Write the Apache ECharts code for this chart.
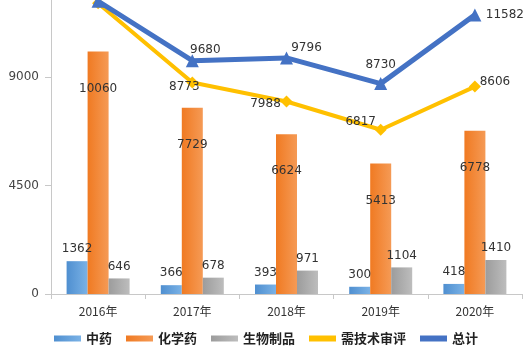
<!DOCTYPE html>
<html>
<head>
<meta charset="utf-8">
<script src="https://cdn.jsdelivr.net/npm/echarts@6/dist/echarts.min.js"></script>
<style>
html, body { margin: 0; padding: 0; background: #fff; }
#chart { width: 532px; height: 355px; }
</style>
</head>
<body>
<div id="chart"></div>
<script>
var years = ['2016年', '2017年', '2018年', '2019年', '2020年'];
var zhongyao = [1362, 366, 393, 300, 418];
var huaxueyao = [10060, 7729, 6624, 5413, 6778];
var shengwu = [646, 678, 971, 1104, 1410];
var shenping = [12068, 8773, 7988, 6817, 8606];
var zongji = [12150, 9680, 9796, 8730, 11582];

// label offset from each point, roughly as in the picture (2016 ones are off the top)
var totalLabelOffsets = [null, [13, -11], [20, -10], [0, -19], [30, 0]];
var reviewLabelOffsets = [null, [-8, 4], [-21, 2], [-20, -8], [20, -5]];

function lineData(values, offsets) {
    return values.map(function (v, i) {
        if (!offsets[i]) {
            return { value: v, label: { show: false } };
        }
        return { value: v, label: { show: true, position: 'inside', offset: offsets[i] } };
    });
}

function grad(c1, c2) {
    return new echarts.graphic.LinearGradient(0, 0, 1, 0, [
        { offset: 0, color: c1 },
        { offset: 1, color: c2 }
    ]);
}

var myChart = echarts.init(document.getElementById('chart'));

var labelStyle = { color: '#333', fontSize: 12, fontFamily: 'DejaVu Sans' };

option = {
    animation: false,
    backgroundColor: '#fff',
    grid: { left: 51, right: 10, top: 0, bottom: 61 },
    legend: {
        bottom: 5,
        left: 'center',
        itemWidth: 27,
        itemHeight: 6,
        itemGap: 14,
        icon: 'rect',
        textStyle: { fontSize: 13, fontWeight: 'bold', color: '#222', fontFamily: 'Noto Sans CJK SC' },
        data: ['中药', '化学药', '生物制品', '需技术审评', '总计']
    },
    xAxis: {
        type: 'category',
        data: years,
        axisLine: { lineStyle: { color: '#c8c8c8' } },
        axisTick: { show: true, lineStyle: { color: '#c8c8c8' } },
        axisLabel: { color: '#333', fontSize: 12, margin: 11, fontFamily: 'Noto Sans CJK SC' }
    },
    yAxis: {
        type: 'value',
        min: 0,
        max: 12200,
        interval: 4500,
        splitLine: { show: false },
        axisLine: { show: true, lineStyle: { color: '#c8c8c8' } },
        axisTick: { show: true, length: 6, lineStyle: { color: '#c8c8c8' } },
        axisLabel: {
            color: '#444', fontSize: 12, margin: 12, showMaxLabel: false, fontFamily: 'DejaVu Sans',
            formatter: function (v) { return String(v); }
        }
    },
    series: [
        {
            name: '中药',
            type: 'bar',
            barWidth: 21,
            barGap: '0%',
            data: zhongyao,
            itemStyle: { color: grad('#4f8fd0', '#7ab2e6') },
            label: { show: true, position: 'top', distance: 6, textStyle: labelStyle }
        },
        {
            name: '化学药',
            type: 'bar',
            barWidth: 21,
            data: huaxueyao,
            itemStyle: { color: grad('#f07a22', '#f59a55') },
            label: { show: true, position: 'insideTop', distance: 31, textStyle: labelStyle }
        },
        {
            name: '生物制品',
            type: 'bar',
            barWidth: 21,
            data: shengwu,
            itemStyle: { color: grad('#9c9c9c', '#bdbdbd') },
            label: { show: true, position: 'top', distance: 6, textStyle: labelStyle }
        },
        {
            name: '需技术审评',
            type: 'line',
            data: lineData(shenping, reviewLabelOffsets),
            symbol: 'diamond',
            symbolSize: 12,
            lineStyle: { color: '#ffc000', width: 4 },
            itemStyle: { color: '#ffc000' },
            label: labelStyle,
            z: 3
        },
        {
            name: '总计',
            type: 'line',
            data: lineData(zongji, totalLabelOffsets),
            symbol: 'triangle',
            symbolSize: 13,
            lineStyle: { color: '#4472c4', width: 5 },
            itemStyle: { color: '#4472c4' },
            label: labelStyle,
            z: 4
        }
    ]
};

myChart.setOption(option);
</script>
</body>
</html>
